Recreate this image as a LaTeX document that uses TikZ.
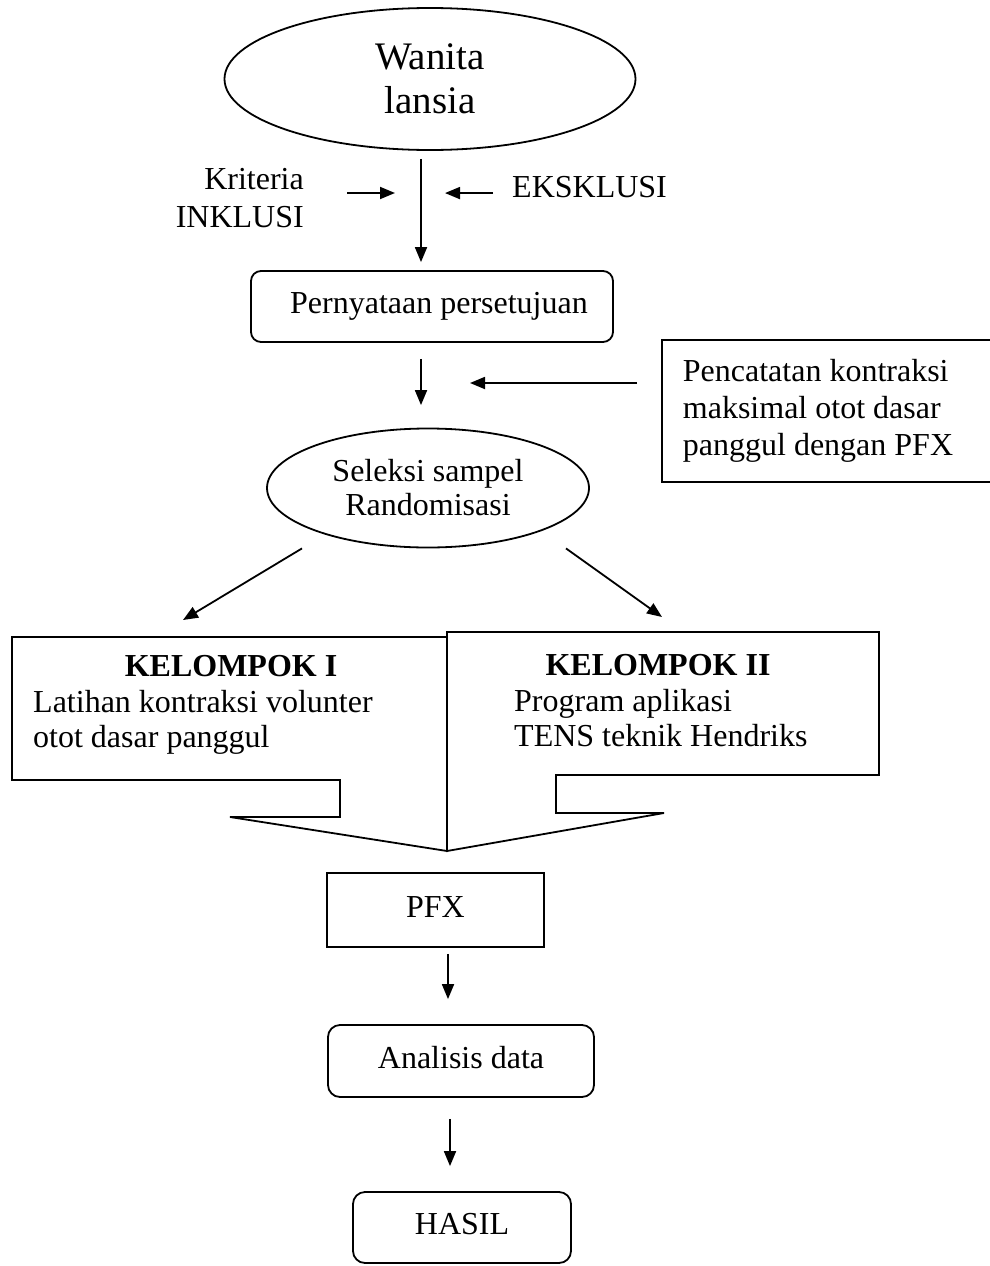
\documentclass[tikz,border=0pt]{standalone}
\usepackage{fontspec}
\setmainfont{Liberation Serif}
\usetikzlibrary{arrows.meta,shapes.geometric,calc}
\begin{document}
\begin{tikzpicture}[x=1pt,y=-1pt,
  every node/.style={font=\fontsize{32}{37}\selectfont, inner sep=0pt},
  bline/.style={line width=1.8pt},
  arr/.style={line width=1.8pt,-{Triangle[length=15pt,width=12pt]}},
  rbox/.style={draw,line width=1.8pt,rounded corners=10pt,text height=22pt,text depth=8pt},
  sbox/.style={draw,line width=1.8pt,text height=22pt,text depth=8pt},
  oval/.style={draw,ellipse,line width=1.8pt,align=center},
  ttl/.style={font=\bfseries\fontsize{32}{37}\selectfont, anchor=base},
  body/.style={font=\fontsize{32}{35}\selectfont, anchor=west, align=left}
]
\useasboundingbox (0,0) rectangle (989,1266);

% nodes
\node[oval,minimum width=411pt,minimum height=142pt,font=\fontsize{39}{44}\selectfont] (wanita) at (430,79) {Wanita\\lansia};
\node[anchor=east,align=right,font=\fontsize{32}{38}\selectfont] (krit) at (304,198) {Kriteria\\INKLUSI};
\node[anchor=base west] (eks) at (512,197) {EKSKLUSI};
\node[rbox,minimum width=362pt,minimum height=71pt] (pern) at (432,306.5) {\hspace*{14pt}Pernyataan persetujuan};
\node[draw,bline,anchor=west,text width=300pt,align=flush left,inner xsep=21pt,minimum height=142pt] (note) at (661,411) {Pencatatan kontraksi\\maksimal otot dasar\\panggul dengan PFX};
\node[oval,minimum width=322pt,minimum height=119pt,font=\fontsize{32}{34}\selectfont] (sel) at (428,488) {Seleksi sampel\\Randomisasi};

% group callouts
\draw[bline,line join=miter] (12,637) -- (447,637) -- (447,851) -- (230,817) -- (340,817) -- (340,780) -- (12,780) -- cycle;
\draw[bline,line join=miter] (447,851) -- (447,632) -- (879,632) -- (879,775) -- (556,775) -- (556,813) -- (664,813) -- cycle;
\coordinate (k1top) at (183,620);
\coordinate (k2top) at (662,617);

\node[ttl] (k1t) at (231,676) {KELOMPOK I};
\node[body] (k1b) at (33,722) {Latihan kontraksi volunter\\otot dasar panggul};
\node[ttl] (k2t) at (658,675) {KELOMPOK II};
\node[body] (k2b) at (514,718.5) {Program aplikasi\\TENS teknik Hendriks};

\node[sbox,minimum width=217pt,minimum height=74pt] (pfx) at (435.5,910) {PFX};
\node[rbox,rounded corners=12pt,minimum width=266pt,minimum height=72pt] (ana) at (461,1061) {Analisis data};
\node[rbox,rounded corners=12pt,minimum width=218pt,minimum height=71pt] (hasil) at (462,1227.5) {HASIL};

% connectors
\draw[arr] ($(wanita.south)+(-9,8)$) -- ($(pern.north)+(-11,-8)$);
\draw[arr] ($(krit.east)+(43,-5)$) -- ++(48,0);
\draw[arr] ($(eks.west)+(-19,6.5)$) -- ++(-48,0);
\draw[arr] ($(pern.south)+(-11,16)$) -- ($(sel.north)+(-7,-22.5)$);
\draw[arr] ($(note.west)+(-24,-28)$) -- ++(-167,0);
\draw[arr] ($(sel.south)+(-126,0)$) -- (k1top);
\draw[arr] ($(sel.south)+(138,0)$) -- (k2top);
\draw[arr] ($(pfx.south)+(12.5,6)$) -- ($(ana.north)+(-13,-25)$);
\draw[arr] ($(ana.south)+(-11,21)$) -- ($(hasil.north)+(-12,-25)$);
\end{tikzpicture}
\end{document}
